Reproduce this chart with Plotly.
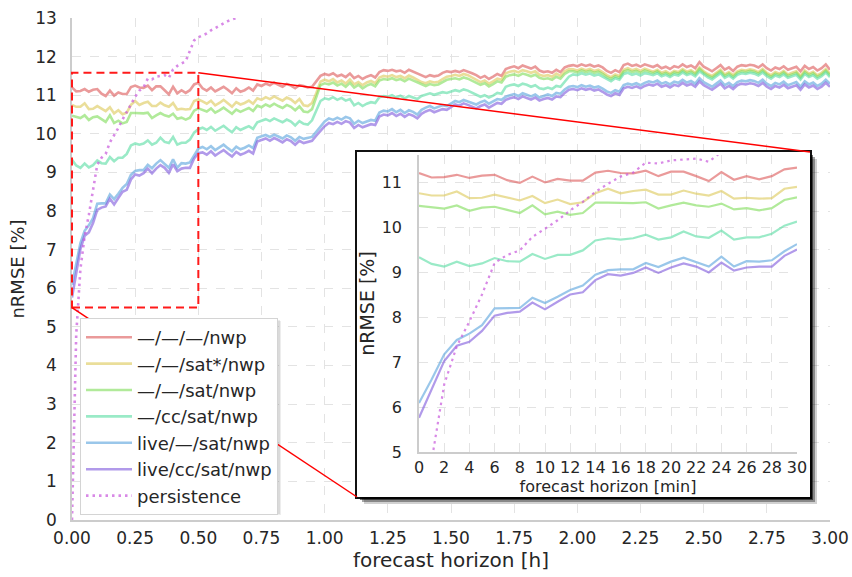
import numpy as np
import plotly.graph_objects as go

# nRMSE [%] per forecast horizon, one value per minute (0 ... 180 min)
nwp = [
    11.20, 11.10, 11.11, 11.16, 11.09, 11.14, 11.16, 11.04, 10.98, 11.12, 10.99, 11.07, 11.03, 11.03, 11.21, 11.25,
    11.20, 11.19, 11.25, 11.13, 11.23, 11.23, 11.13, 11.02, 11.22, 11.05, 11.13, 11.06, 11.13, 11.28, 11.32,
    11.18, 11.12, 11.20, 11.10, 11.16, 11.22, 11.14, 11.05, 11.18, 11.09, 11.13, 11.20, 11.12,
    11.28, 11.24, 11.30, 11.26, 11.33, 11.27, 11.22, 11.29, 11.25, 11.18, 11.26,
    11.24, 11.20, 11.22, 11.35,
    11.50, 11.55, 11.52, 11.57, 11.49, 11.53, 11.47, 11.56, 11.44, 11.50, 11.42, 11.48, 11.52, 11.46,
    11.60, 11.65, 11.63, 11.66, 11.62, 11.64, 11.58, 11.66, 11.61, 11.55,
    11.50, 11.47, 11.52, 11.49, 11.51, 11.58, 11.62, 11.60,
    11.63, 11.60, 11.65, 11.62, 11.57, 11.52,
    11.45, 11.50, 11.42, 11.48, 11.55, 11.50,
    11.68, 11.72, 11.75, 11.70, 11.77, 11.73, 11.69, 11.74, 11.64, 11.60,
    11.62, 11.58, 11.66, 11.60, 11.72, 11.76,
    11.78, 11.75, 11.80, 11.76, 11.79, 11.74, 11.77, 11.72, 11.63, 11.58, 11.65, 11.60, 11.78, 11.82, 11.76, 11.79,
    11.74, 11.80,
    11.76, 11.73, 11.78, 11.70, 11.74, 11.68, 11.75, 11.72, 11.80, 11.73, 11.77, 11.70, 11.86, 11.74, 11.68, 11.62,
    11.70, 11.78, 11.66, 11.72, 11.63, 11.74, 11.78, 11.76, 11.79, 11.77, 11.72, 11.80, 11.70, 11.64, 11.72, 11.68,
    11.75, 11.66, 11.70, 11.74, 11.62, 11.76, 11.68, 11.73, 11.64, 11.70, 11.80, 11.66,
]

sat_star_nwp = [
    10.75, 10.70, 10.70, 10.79, 10.64, 10.65, 10.72, 10.66, 10.59, 10.69, 10.53, 10.61, 10.51, 10.55, 10.75, 10.85,
    10.75, 10.80, 10.83, 10.72, 10.72, 10.81, 10.74, 10.70, 10.80, 10.63, 10.65, 10.63, 10.64, 10.85, 10.89,
    10.84, 10.78, 10.86, 10.74, 10.80, 10.88, 10.79, 10.70, 10.82, 10.76, 10.80, 10.86, 10.78,
    10.92, 10.88, 10.95, 10.90, 10.97, 10.91, 10.86, 10.94, 10.89, 10.80, 10.90,
    10.74, 10.72, 10.80, 11.05,
    11.35, 11.40, 11.36, 11.42, 11.33, 11.38, 11.30, 11.41, 11.28, 11.34, 11.26, 11.33, 11.37, 11.31,
    11.46, 11.50, 11.48, 11.52, 11.47, 11.50, 11.44, 11.51, 11.46, 11.40,
    11.34, 11.31, 11.36, 11.33, 11.35, 11.42, 11.48, 11.50,
    11.53, 11.50, 11.55, 11.52, 11.46, 11.40,
    11.34, 11.38, 11.30, 11.36, 11.43, 11.40,
    11.57, 11.61, 11.63, 11.59, 11.65, 11.62, 11.58, 11.62, 11.53, 11.50,
    11.52, 11.48, 11.56, 11.50, 11.62, 11.68,
    11.67, 11.64, 11.69, 11.65, 11.68, 11.63, 11.66, 11.60, 11.52, 11.47, 11.54, 11.50, 11.66, 11.70, 11.65, 11.68,
    11.63, 11.69,
    11.64, 11.61, 11.66, 11.58, 11.62, 11.56, 11.63, 11.60, 11.68, 11.61, 11.65, 11.58, 11.72, 11.62, 11.55, 11.50,
    11.58, 11.66, 11.54, 11.60, 11.52, 11.62, 11.66, 11.64, 11.67, 11.65, 11.60, 11.68, 11.58, 11.52, 11.60, 11.56,
    11.63, 11.54, 11.58, 11.62, 11.50, 11.64, 11.56, 11.61, 11.52, 11.58, 11.68, 11.56,
]

sat_nwp = [
    10.47, 10.44, 10.41, 10.48, 10.36, 10.43, 10.45, 10.38, 10.31, 10.48, 10.28, 10.34, 10.27, 10.31, 10.54, 10.54,
    10.53, 10.53, 10.55, 10.41, 10.48, 10.54, 10.48, 10.45, 10.52, 10.39, 10.42, 10.37, 10.42, 10.60, 10.66,
    10.63, 10.58, 10.66, 10.55, 10.61, 10.68, 10.60, 10.52, 10.63, 10.57, 10.62, 10.67, 10.59,
    10.73, 10.69, 10.76, 10.71, 10.78, 10.72, 10.67, 10.75, 10.70, 10.61, 10.71,
    10.58, 10.56, 10.64, 10.95,
    11.26, 11.31, 11.28, 11.33, 11.25, 11.30, 11.22, 11.32, 11.20, 11.27, 11.18, 11.25, 11.29, 11.23,
    11.38, 11.42, 11.40, 11.44, 11.39, 11.42, 11.36, 11.43, 11.38, 11.32,
    11.27, 11.24, 11.29, 11.26, 11.28, 11.34, 11.40, 11.42,
    11.44, 11.41, 11.46, 11.43, 11.37, 11.31,
    11.27, 11.31, 11.23, 11.29, 11.36, 11.33,
    11.48, 11.52, 11.54, 11.50, 11.56, 11.53, 11.49, 11.53, 11.45, 11.42,
    11.44, 11.40, 11.48, 11.43, 11.55, 11.62,
    11.62, 11.59, 11.64, 11.60, 11.63, 11.58, 11.61, 11.55, 11.47, 11.42, 11.49, 11.45, 11.61, 11.65, 11.60, 11.63,
    11.58, 11.64,
    11.60, 11.57, 11.62, 11.54, 11.58, 11.52, 11.59, 11.56, 11.64, 11.57, 11.61, 11.54, 11.68, 11.58, 11.51, 11.46,
    11.54, 11.62, 11.50, 11.56, 11.48, 11.58, 11.62, 11.60, 11.63, 11.61, 11.56, 11.64, 11.54, 11.48, 11.56, 11.52,
    11.59, 11.50, 11.54, 11.58, 11.46, 11.60, 11.52, 11.57, 11.48, 11.54, 11.64, 11.52,
]

cc_sat_nwp = [
    9.33, 9.18, 9.12, 9.23, 9.13, 9.19, 9.31, 9.24, 9.23, 9.40, 9.29, 9.38, 9.38, 9.48, 9.70, 9.75,
    9.72, 9.75, 9.83, 9.72, 9.77, 9.90, 9.79, 9.76, 9.92, 9.72, 9.77, 9.77, 9.85, 10.03, 10.12,
    10.16, 10.10, 10.18, 10.08, 10.14, 10.21, 10.12, 10.04, 10.17, 10.10, 10.15, 10.20, 10.13,
    10.30, 10.34, 10.38, 10.33, 10.40, 10.35, 10.30, 10.37, 10.32, 10.22, 10.33,
    10.26, 10.24, 10.35, 10.60,
    10.85, 10.92, 10.89, 10.95, 10.88, 10.93, 10.86, 10.90, 10.74, 10.80, 10.72, 10.78, 10.82, 10.80,
    10.95, 10.98, 10.96, 11.00, 10.94, 10.99, 10.92, 10.98, 10.95, 10.90,
    10.98, 11.02, 11.05, 11.01, 11.04, 11.08, 11.06, 11.10,
    11.13, 11.10, 11.15, 11.12, 11.06, 11.00,
    10.96, 11.00, 10.94, 10.99, 11.06, 11.04,
    11.22, 11.26, 11.28, 11.24, 11.30, 11.27, 11.22, 11.26, 11.18, 11.16,
    11.20, 11.16, 11.24, 11.22, 11.36, 11.48,
    11.54, 11.52, 11.57, 11.53, 11.56, 11.51, 11.54, 11.48, 11.40, 11.36, 11.44, 11.40, 11.55, 11.58, 11.53, 11.56,
    11.51, 11.57,
    11.55, 11.52, 11.57, 11.49, 11.53, 11.47, 11.54, 11.51, 11.59, 11.52, 11.56, 11.49, 11.62, 11.53, 11.46, 11.41,
    11.49, 11.57, 11.45, 11.51, 11.43, 11.53, 11.57, 11.55, 11.58, 11.56, 11.51, 11.59, 11.49, 11.43, 11.51, 11.47,
    11.54, 11.45, 11.49, 11.53, 11.41, 11.55, 11.47, 11.52, 11.43, 11.49, 11.59, 11.47,
]

live_sat_nwp = [
    6.09, 6.61, 7.17, 7.49, 7.63, 7.82, 8.19, 8.20, 8.20, 8.43, 8.31, 8.45, 8.60, 8.70, 8.94, 9.04,
    9.06, 9.06, 9.20, 9.11, 9.23, 9.32, 9.22, 9.12, 9.34, 9.12, 9.24, 9.23, 9.26, 9.46, 9.62,
    9.66, 9.60, 9.68, 9.58, 9.65, 9.72, 9.63, 9.55, 9.67, 9.60, 9.64, 9.70, 9.63,
    9.90, 9.94, 9.97, 9.92, 9.98, 9.93, 9.88, 9.96, 9.91, 9.82, 9.92,
    9.87, 9.90, 9.92, 10.05,
    10.20, 10.32, 10.40, 10.36, 10.42, 10.37, 10.44, 10.40, 10.26, 10.34, 10.28, 10.33, 10.36, 10.34,
    10.55, 10.60, 10.58, 10.64, 10.56, 10.62, 10.54, 10.61, 10.57, 10.50,
    10.62, 10.68, 10.72, 10.66, 10.70, 10.74, 10.72, 10.78,
    10.85, 10.82, 10.88, 10.84, 10.80, 10.76,
    10.82, 10.86, 10.78, 10.84, 10.90, 10.88,
    10.96, 11.00, 11.03, 10.98, 11.05, 11.01, 10.97, 11.02, 10.94, 10.98,
    11.02, 10.98, 11.06, 11.04, 11.15, 11.22,
    11.24, 11.21, 11.26, 11.22, 11.25, 11.20, 11.23, 11.17, 11.10, 11.06, 11.13, 11.09, 11.26, 11.30, 11.27, 11.31,
    11.26, 11.32,
    11.36, 11.33, 11.38, 11.30, 11.34, 11.28, 11.35, 11.32, 11.40, 11.33, 11.37, 11.30, 11.44, 11.34, 11.27, 11.22,
    11.30, 11.38, 11.26, 11.32, 11.24, 11.34, 11.38, 11.36, 11.39, 11.37, 11.32, 11.40, 11.30, 11.24, 11.32, 11.28,
    11.35, 11.26, 11.30, 11.34, 11.22, 11.36, 11.28, 11.33, 11.24, 11.30, 11.40, 11.30,
]

live_cc_sat_nwp = [
    5.76, 6.40, 7.02, 7.36, 7.45, 7.69, 8.03, 8.09, 8.12, 8.32, 8.17, 8.34, 8.50, 8.55, 8.82, 8.95,
    8.92, 8.98, 9.10, 8.98, 9.10, 9.19, 9.12, 8.99, 9.21, 9.03, 9.10, 9.12, 9.12, 9.36, 9.50,
    9.52, 9.46, 9.55, 9.44, 9.51, 9.58, 9.49, 9.41, 9.53, 9.46, 9.50, 9.56, 9.49,
    9.80, 9.84, 9.88, 9.82, 9.89, 9.84, 9.78, 9.86, 9.81, 9.72, 9.82,
    9.76, 9.79, 9.82, 9.95,
    10.08, 10.20, 10.28, 10.25, 10.31, 10.26, 10.33, 10.29, 10.15, 10.23, 10.17, 10.22, 10.25, 10.23,
    10.45, 10.50, 10.48, 10.54, 10.46, 10.52, 10.44, 10.51, 10.47, 10.40,
    10.52, 10.58, 10.62, 10.56, 10.60, 10.64, 10.62, 10.68,
    10.76, 10.73, 10.79, 10.75, 10.70, 10.66,
    10.72, 10.76, 10.68, 10.74, 10.80, 10.78,
    10.88, 10.92, 10.95, 10.90, 10.97, 10.93, 10.89, 10.94, 10.86, 10.90,
    10.93, 10.89, 10.97, 10.95, 11.06, 11.14,
    11.16, 11.13, 11.18, 11.14, 11.17, 11.12, 11.15, 11.09, 11.02, 10.98, 11.05, 11.01, 11.18, 11.22, 11.19, 11.23,
    11.18, 11.24,
    11.28, 11.25, 11.30, 11.22, 11.26, 11.20, 11.27, 11.24, 11.32, 11.25, 11.29, 11.22, 11.36, 11.26, 11.19, 11.14,
    11.22, 11.30, 11.18, 11.24, 11.16, 11.26, 11.30, 11.28, 11.31, 11.29, 11.24, 11.32, 11.22, 11.16, 11.24, 11.20,
    11.27, 11.18, 11.22, 11.26, 11.14, 11.28, 11.20, 11.25, 11.16, 11.22, 11.32, 11.22,
]

# persistence error grows quickly and leaves the plotted range after ~40 min
persistence = [
    0.00, 4.80, 6.50, 7.35, 7.90, 8.50, 9.20, 9.38, 9.48, 9.78, 9.96, 10.15, 10.37, 10.56, 10.78, 10.96,
    11.12, 11.21, 11.43, 11.41, 11.48, 11.50, 11.52, 11.45, 11.67, 11.76, 11.82, 11.88, 12.15, 12.42, 12.50,
    12.55, 12.60, 12.68, 12.74, 12.82, 12.88, 12.92, 12.96, 13.00, 13.10, 13.25, 13.40,
]

series_labels = ["—/—/—/nwp", "—/—/sat*/nwp", "—/—/sat/nwp", "—/cc/sat/nwp",
                 "live/—/sat/nwp", "live/cc/sat/nwp", "persistence"]
series_values = [nwp, sat_star_nwp, sat_nwp, cc_sat_nwp, live_sat_nwp, live_cc_sat_nwp, persistence]
series_colors = ["rgba(220,87,87,0.6)", "rgba(220,200,87,0.6)", "rgba(125,220,87,0.6)",
                 "rgba(87,220,162,0.6)", "rgba(87,162,220,0.6)", "rgba(125,87,220,0.6)",
                 "rgba(200,87,220,0.7)"]

main_x_ticks = [0.0, 0.25, 0.5, 0.75, 1.0, 1.25, 1.5, 1.75, 2.0, 2.25, 2.5, 2.75, 3.0]
main_y_ticks = list(range(0, 14))
inset_x_ticks = list(range(0, 31, 2))
inset_y_ticks = list(range(5, 12))

# zoom window shown in the inset
zoom_h = (0.0, 0.5)
zoom_val = (5.5, 11.58)

W, H = 852, 577
ML, MR, MT, MB = 72, 22, 18, 57
PW, PH = W - ML - MR, H - MT - MB
X_RANGE, Y_RANGE = (0, 3), (0, 13)


def px(xp):
    return (xp - ML) / PW


def py(yp):
    return (H - MB - yp) / PH


def dx(v):
    return (v - X_RANGE[0]) / (X_RANGE[1] - X_RANGE[0])


def dy(v):
    return (v - Y_RANGE[0]) / (Y_RANGE[1] - Y_RANGE[0])


FONT = "DejaVu Sans"
TXT = "#262626"

fig = go.Figure()

for label, vals, col in zip(series_labels, series_values, series_colors):
    minutes = np.arange(len(vals))
    dotted = label == "persistence"
    fig.add_trace(go.Scatter(
        x=minutes / 60.0, y=vals, mode="lines", name=label, legendgroup=label,
        line=dict(color=col, width=2.6, dash="2.5px,4px" if dotted else "solid"),
        xaxis="x", yaxis="y", hoverinfo="skip",
    ))

# empty frame panel behind the inset
fig.add_trace(go.Scatter(x=[], y=[], xaxis="x2", yaxis="y2", showlegend=False))

for label, vals, col in zip(series_labels, series_values, series_colors):
    minutes = np.arange(len(vals))
    keep = minutes <= 30
    dotted = label == "persistence"
    fig.add_trace(go.Scatter(
        x=minutes[keep], y=np.array(vals)[keep], mode="lines", name=label, showlegend=False,
        line=dict(color=col, width=2.2, dash="2.5px,4px" if dotted else "solid"),
        xaxis="x3", yaxis="y3", hoverinfo="skip",
    ))

grid = dict(showgrid=True, gridcolor="#e3e3e3", gridwidth=1, griddash="dash", zeroline=False,
            showline=True, linecolor="#cccccc", linewidth=1.5, ticks="", automargin=False)

frame_l, frame_r, frame_t, frame_b = 357, 810, 152, 497
inset_l, inset_r, inset_t, inset_b = 419, 797, 155, 452
legend_l, legend_r, legend_t, legend_b = 80, 278, 318, 512

plain = dict(showgrid=False, zeroline=False, showticklabels=False, ticks="", showline=True,
             mirror=True, linecolor="#111111", linewidth=2.2, automargin=False, range=[0, 1])

fig.update_layout(
    width=W, height=H,
    margin=dict(l=ML, r=MR, t=MT, b=MB, pad=0, autoexpand=False),
    paper_bgcolor="white", plot_bgcolor="white",
    font=dict(family=FONT, color=TXT, size=17),
    xaxis=dict(domain=[0, 1], range=list(X_RANGE), tickvals=main_x_ticks, tickformat=".2f",
               tickfont=dict(size=17), ticklabelstandoff=2,
               title=dict(text="forecast horizon [h]", font=dict(size=20), standoff=3), **grid),
    yaxis=dict(domain=[0, 1], range=list(Y_RANGE), tickvals=main_y_ticks,
               tickfont=dict(size=17), ticklabelstandoff=10,
               title=dict(text="nRMSE [%]", font=dict(size=18), standoff=6), **grid),
    xaxis2=dict(domain=[px(frame_l), px(frame_r)], anchor="y2", **plain),
    yaxis2=dict(domain=[py(frame_b), py(frame_t)], anchor="x2", **plain),
    xaxis3=dict(domain=[px(inset_l), px(inset_r)], anchor="y3", range=[0, 30], tickvals=inset_x_ticks,
                tickfont=dict(size=16), ticklabelstandoff=0,
                title=dict(text="forecast horizon [min]", font=dict(size=16), standoff=0), **grid),
    yaxis3=dict(domain=[py(inset_b), py(inset_t)], anchor="x3", range=[5, 11.6], tickvals=inset_y_ticks,
                tickfont=dict(size=16), ticklabelstandoff=12,
                title=dict(text="nRMSE [%]", font=dict(size=19), standoff=2), **grid),
    legend=dict(x=px(legend_l), y=py(legend_t), xanchor="left", yanchor="top",
                bgcolor="white", bordercolor="#d4d4d4", borderwidth=1,
                font=dict(size=18, color=TXT), tracegroupgap=0, itemwidth=46),
    showlegend=True,
)

shapes = []
# drop shadow of the inset panel (right and bottom edges)
for off, alpha in ((7, 0.18), (5, 0.35), (3, 0.55)):
    path = (f"M {px(frame_r)},{py(frame_t + off)} L {px(frame_r + off)},{py(frame_t + off)} "
            f"L {px(frame_r + off)},{py(frame_b + off)} L {px(frame_l + off)},{py(frame_b + off)} "
            f"L {px(frame_l + off)},{py(frame_b)} L {px(frame_r)},{py(frame_b)} Z")
    shapes.append(dict(type="path", xref="paper", yref="paper", path=path,
                       fillcolor=f"rgba(0,0,0,{alpha})", line=dict(width=0), layer="above"))
# faint shadow peeking out below / right of the legend box
for off, alpha in ((3, 0.07), (2, 0.08)):
    shapes.append(dict(type="rect", xref="paper", yref="paper",
                       x0=px(legend_l + off), x1=px(legend_r + off),
                       y0=py(legend_b + off), y1=py(legend_t + off),
                       fillcolor=f"rgba(0,0,0,{alpha})", line=dict(width=0), layer="above"))
# zoom window and its connectors to the inset
shapes.append(dict(type="rect", xref="paper", yref="paper",
                   x0=dx(zoom_h[0]), x1=dx(zoom_h[1]), y0=dy(zoom_val[0]), y1=dy(zoom_val[1]),
                   line=dict(color="#ff1a1a", width=2, dash="8px,5px"), layer="above"))
shapes.append(dict(type="line", xref="paper", yref="paper",
                   x0=dx(zoom_h[1]), y0=dy(zoom_val[1]), x1=px(frame_r), y1=py(frame_t),
                   line=dict(color="#ff0000", width=1.5), layer="above"))
shapes.append(dict(type="line", xref="paper", yref="paper",
                   x0=dx(zoom_h[0]), y0=dy(zoom_val[0]), x1=px(frame_l), y1=py(frame_b),
                   line=dict(color="#ff0000", width=1.5), layer="above"))
fig.update_layout(shapes=shapes)

fig.write_html("out.html")
